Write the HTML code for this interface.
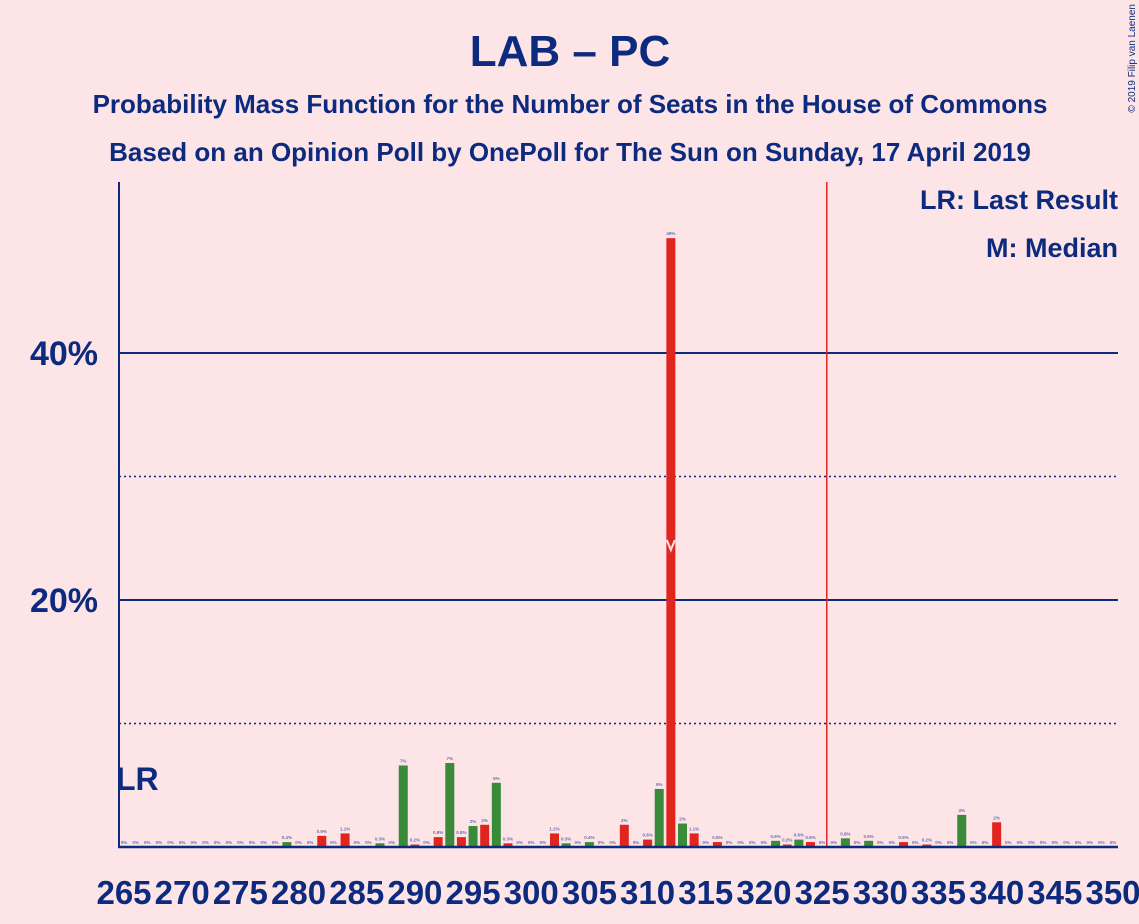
<!DOCTYPE html>
<html><head><meta charset="utf-8">
<style>
body{margin:0;background:#fde4e7;}
svg{display:block;font-family:"Liberation Sans",sans-serif;}
</style></head>
<body>
<svg id="chart" width="1139" height="924" viewBox="0 0 1139 924" xmlns="http://www.w3.org/2000/svg">
<rect width="1139" height="924" fill="#fde4e7"/>
<text x="570" y="66" text-anchor="middle" font-size="44" font-weight="bold" fill="#0c2a7e">LAB – PC</text>
<text x="570" y="113" text-anchor="middle" font-size="26" font-weight="bold" fill="#0c2a7e">Probability Mass Function for the Number of Seats in the House of Commons</text>
<text x="570" y="161" text-anchor="middle" font-size="26" font-weight="bold" fill="#0c2a7e">Based on an Opinion Poll by OnePoll for The Sun on Sunday, 17 April 2019</text>
<text x="1135" y="4" transform="rotate(-90 1135 4)" text-anchor="end" font-size="10" fill="#0c2a7e" dy="0">© 2019 Filip van Laenen</text>
<text x="1118" y="209" text-anchor="end" font-size="27" font-weight="bold" fill="#0c2a7e">LR: Last Result</text>
<text x="1118" y="257" text-anchor="end" font-size="27" font-weight="bold" fill="#0c2a7e">M: Median</text>
<g id="grid"></g>
<g id="bars"></g>
<g id="xlabels"></g>
</svg>
<script>
const seats = [];
for (let s = 265; s <= 350; s++) seats.push(s);
const valueSeats = [279,282,284,287,289,290,292,293,294,295,296,297,298,302,303,305,308,310,311,312,313,314,316,321,322,323,324,327,329,332,334,337,340];
const values =     [0.4,0.9,1.1,0.3,6.6,0.2,0.8,6.8,0.8,1.7,1.8,5.2,0.3,1.1,0.3,0.4,1.8,0.6,4.7,49.3,1.9,1.1,0.4,0.5,0.2,0.6,0.4,0.7,0.5,0.4,0.2,2.6,2.0];
const valueLabels = ["0.4%","0.9%","1.1%","0.3%","7%","0.2%","0.8%","7%","0.8%","2%","2%","5%","0.3%","1.2%","0.3%","0.4%","2%","0.6%","5%","49%","2%","1.1%","0.5%","0.6%","0.2%","0.6%","0.5%","0.8%","0.6%","0.5%","0.2%","3%","2%"];
const redSeats = [282,284,290,292,294,296,298,302,308,310,312,314,316,322,324,332,334,340];
const yTicks = [20, 40];
const yTickLabels = ["20%", "40%"];
const dottedTicks = [10, 30];
const xTicks = [265,270,275,280,285,290,295,300,305,310,315,320,325,330,335,340,345,350];
const lastResult = 265;
const median = 312;
const majority = 325.4;

const NS = "http://www.w3.org/2000/svg";
const x = s => 124 + (s - 265) * (1113 - 124) / 85;
const y = v => 847 - v * 12.35;
function mk(tag, attrs, parent) {
  const el = document.createElementNS(NS, tag);
  for (const k in attrs) el.setAttribute(k, attrs[k]);
  parent.appendChild(el);
  return el;
}
const grid = document.getElementById('grid');
const bars = document.getElementById('bars');
const xl = document.getElementById('xlabels');

dottedTicks.forEach(t => {
  const l = mk('line', {x1:119, x2:1118, y1:y(t), y2:y(t), stroke:'#0c2a7e', 'stroke-width':1.5, 'stroke-dasharray':'2,3'}, grid);
  
  
});
yTicks.forEach((t, i) => {
  const l = mk('line', {x1:119, x2:1118, y1:y(t), y2:y(t), stroke:'#0c2a7e', 'stroke-width':2}, grid);
  
  
  const tx = mk('text', {x:98, y:y(t) + 12, 'text-anchor':'end', 'font-size':34, 'font-weight':'bold', fill:'#0c2a7e'}, grid);
  tx.textContent = yTickLabels[i];
  
  
});

seats.forEach(s => {
  const i = valueSeats.indexOf(s);
  const v = i >= 0 ? values[i] : 0;
  const lab = i >= 0 ? valueLabels[i] : "0%";
  const color = redSeats.indexOf(s) >= 0 ? '#e0251f' : '#398b3a';
  if (v > 0) {
    const r = mk('rect', {x:x(s) - 4.5, y:y(v), width:9, height:847 - y(v), fill:color}, bars);
    
    
  }
  const t = mk('text', {x:x(s), y:y(v) - 3, 'text-anchor':'middle', 'font-size':4.5, 'font-weight':'bold', fill:'#6a6fb0'}, bars);
  t.textContent = lab;
  
  
});

const mx = x(median);
const m = mk('polyline', {points:(mx-4)+','+540+' '+mx+','+550+' '+(mx+4)+','+540, fill:'none', stroke:'#fde4e7', 'stroke-width':2}, bars);



const mj = mk('line', {x1:x(majority), x2:x(majority), y1:182, y2:847, stroke:'#e0251f', 'stroke-width':1.5}, bars);



const ya = mk('line', {x1:119, x2:119, y1:182, y2:848, stroke:'#0c2a7e', 'stroke-width':2}, bars);


const xa = mk('line', {x1:118, x2:1118, y1:847, y2:847, stroke:'#0c2a7e', 'stroke-width':2.5}, bars);



const lr = mk('text', {x:x(lastResult) - 8, y:790, 'font-size':32, 'font-weight':'bold', fill:'#0c2a7e'}, bars);
lr.textContent = 'LR';



xTicks.forEach(s => {
  const t = mk('text', {x:x(s), y:904, 'text-anchor':'middle', 'font-size':33, 'font-weight':'bold', fill:'#0c2a7e'}, xl);
  t.textContent = s;
  
  
});
</script>
</body></html>
